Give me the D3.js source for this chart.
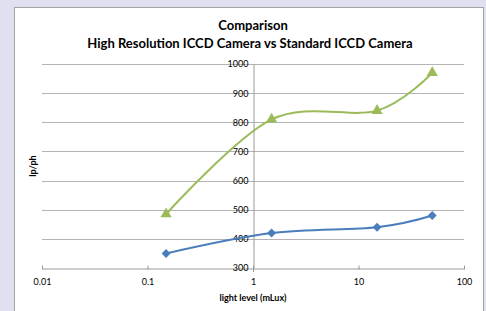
<!DOCTYPE html>
<html>
<head>
<meta charset="utf-8">
<script src="https://cdn.jsdelivr.net/npm/d3@7"></script>
<style>
  body { margin: 0; background: #dfe1f0; }
  text { font-family: Lato, "Open Sans", sans-serif; fill: #000; }
</style>
</head>
<body>
<div id="chart"></div>
<script>
// light level (mLux)
var lightLevels = [0.15, 1.5, 15, 50];
var highResValues = [485, 810, 840, 970];
var standardValues = [350, 420, 440, 480];
var xTicks = [0.01, 0.1, 1, 10, 100];
var yTicks = [300, 400, 500, 600, 700, 800, 900, 1000];

var width = 486, height = 311;
var margin = {top: 64, bottom: 43, left: 42, right: 22};

var svg = d3.select("#chart")
  .append("svg")
  .attr("width", width)
  .attr("height", height);

// white chart panel
svg.append("rect")
  .attr("x", 14.5).attr("y", 7.5)
  .attr("width", 469).attr("height", 320)
  .attr("fill", "#fff")
  .attr("stroke", "#a3a3a3");

var x = d3.scaleLog()
  .domain([0.01, 100])
  .range([margin.left, width - margin.right]);

var y = d3.scaleLinear()
  .domain([300, 1000])
  .range([height - margin.bottom, margin.top]);

// horizontal gridlines
svg.append("g")
  .selectAll("line")
  .data(yTicks.slice(1))
  .enter()
  .append("line")
  .attr("x1", x(0.01)).attr("x2", x(100))
  .attr("y1", function(d){ return Math.round(y(d)) + 0.5; })
  .attr("y2", function(d){ return Math.round(y(d)) + 0.5; })
  .attr("stroke", "#b3b3b3");

// x axis
var xAxis = svg.append("g")
  .attr("transform", "translate(0," + (Math.round(y(300)) + 0.5) + ")")
  .call(d3.axisBottom(x).tickValues(xTicks).tickFormat(function(d){ return String(d); }).tickSize(4).tickSizeOuter(0));
xAxis.select(".domain").attr("stroke", "#9a9a9a");
xAxis.selectAll(".tick line").attr("stroke", "#9a9a9a").attr("y1", -3).attr("y2", 1);
xAxis.selectAll(".tick text")
  .attr("y", 10)
  .style("font-size", "9px")
  .style("font-family", "Lato, sans-serif");

// y axis crosses at 1
var yAxis = svg.append("g")
  .attr("transform", "translate(" + (Math.round(x(1)) + 0.5) + ",0)")
  .call(d3.axisLeft(y).tickValues(yTicks).tickFormat(d3.format("d")).tickSize(0).tickPadding(5).tickSizeOuter(0));
yAxis.select(".domain").attr("stroke", "#9a9a9a");
yAxis.selectAll(".tick text")
  .style("font-size", "9px")
  .style("font-family", "Lato, sans-serif");
// small extension of axis below the x axis
svg.append("line")
  .attr("x1", Math.round(x(1)) + 0.5).attr("x2", Math.round(x(1)) + 0.5)
  .attr("y1", y(300)).attr("y2", y(300) + 4)
  .attr("stroke", "#9a9a9a");

var line = d3.line()
  .x(function(d){ return x(d[0]); })
  .y(function(d){ return y(d[1]); })
  .curve(d3.curveCatmullRom.alpha(0));

// square diamond like the spreadsheet marker
var squareDiamond = {
  draw: function(context, size) {
    var r = Math.sqrt(size / 2);
    context.moveTo(0, -r);
    context.lineTo(r, 0);
    context.lineTo(0, r);
    context.lineTo(-r, 0);
    context.closePath();
  }
};

var series = [
  {values: highResValues, color: "#9bbb59", symbol: d3.symbolTriangle, size: 55},
  {values: standardValues, color: "#4a7ebb", symbol: squareDiamond, size: 40}
];

series.forEach(function(s){
  var pts = lightLevels.map(function(l, i){ return [l, s.values[i]]; });
  svg.append("path")
    .datum(pts)
    .attr("d", line)
    .attr("fill", "none")
    .attr("stroke", s.color)
    .attr("stroke-width", 2);
  svg.append("g")
    .selectAll("path")
    .data(pts)
    .enter()
    .append("path")
    .attr("d", d3.symbol().type(s.symbol).size(s.size))
    .attr("transform", function(d){ return "translate(" + x(d[0]) + "," + y(d[1]) + ")"; })
    .attr("fill", s.color);
});

// titles
svg.append("text")
  .attr("x", 253).attr("y", 30)
  .attr("text-anchor", "middle")
  .style("font-size", "13px").style("font-weight", "bold")
  .text("Comparison");
svg.append("text")
  .attr("x", 250).attr("y", 48)
  .attr("text-anchor", "middle")
  .style("font-size", "13px").style("font-weight", "bold")
  .text("High Resolution ICCD Camera vs Standard ICCD Camera");

svg.append("text")
  .attr("x", 253).attr("y", 301)
  .attr("text-anchor", "middle")
  .style("font-size", "9px").style("font-weight", "bold")
  .text("light level (mLux)");

svg.append("text")
  .attr("transform", "translate(36,166) rotate(-90)")
  .attr("text-anchor", "middle")
  .style("font-size", "9px").style("font-weight", "bold")
  .text("lp/ph");
</script>
</body>
</html>
